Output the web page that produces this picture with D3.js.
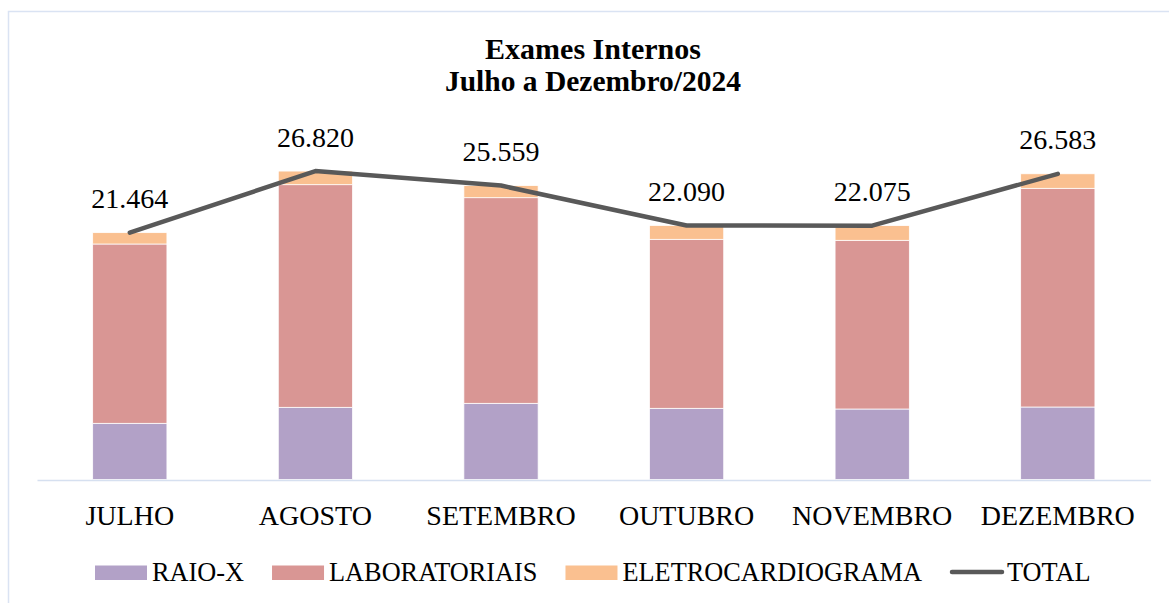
<!DOCTYPE html>
<html>
<head>
<meta charset="utf-8">
<script src="https://cdn.jsdelivr.net/npm/d3@7"></script>
<style>
  body { margin: 0; background: #ffffff; }
</style>
</head>
<body>
<div id="chart-area"></div>
<script>
// Months on the x axis
let months = ["JULHO", "AGOSTO", "SETEMBRO", "OUTUBRO", "NOVEMBRO", "DEZEMBRO"];

// Series values
let raioX = [4887, 6278, 6626, 6191, 6130, 6304];
let laboratoriais = [15591, 19357, 17878, 14696, 14670, 19018];
let eletrocardiograma = [986, 1185, 1055, 1203, 1275, 1261];
let total = [21464, 26820, 25559, 22090, 22075, 26583];

// Series names and colours
let seriesNames = ["RAIO-X", "LABORATORIAIS", "ELETROCARDIOGRAMA"];
let seriesColors = ["#b2a1c7", "#d99694", "#fac090"];
let lineColor = "#595959";

let serif = "Liberation Serif, Times New Roman, serif";

let width = 1169,
	height = 603;

let svg = d3.select("#chart-area")
	.append("svg")
	.attr("width", width)
	.attr("height", height)
	.attr("font-family", serif);

// Chart frame
svg.append("rect")
	.attr("x", 8.5)
	.attr("y", 11.5)
	.attr("width", 1170)
	.attr("height", 600)
	.attr("fill", "none")
	.attr("stroke", "#dae3f3")
	.attr("stroke-width", 1.5);

// Title
svg.append("text")
	.attr("x", 593)
	.attr("y", 59)
	.attr("text-anchor", "middle")
	.attr("font-weight", "bold")
	.attr("font-size", "30px")
	.text("Exames Internos");

svg.append("text")
	.attr("x", 593)
	.attr("y", 91)
	.attr("text-anchor", "middle")
	.attr("font-weight", "bold")
	.attr("font-size", "29.5px")
	.text("Julho a Dezembro/2024");

// Scales
let xScale = d3.scaleBand()
	.domain(months)
	.range([37, 1150.6])
	.paddingInner(0.6)
	.paddingOuter(0.3);

let yScale = d3.scaleLinear()
	.domain([0, 30000])
	.range([479.5, 134.5]);

// Stack the bar data
let rows = months.map((m, i) => ({
	month: m,
	"RAIO-X": raioX[i],
	"LABORATORIAIS": laboratoriais[i],
	"ELETROCARDIOGRAMA": eletrocardiograma[i]
}));

let stacked = d3.stack().keys(seriesNames)(rows);

// Draw bars
svg.append("g")
	.selectAll("g")
	.data(stacked)
	.enter()
	.append("g")
	.attr("fill", (d, i) => seriesColors[i])
	.selectAll("rect")
	.data(d => d)
	.enter()
	.append("rect")
	.attr("x", d => xScale(d.data.month))
	.attr("y", d => yScale(d[1]))
	.attr("width", xScale.bandwidth())
	.attr("height", d => yScale(d[0]) - yScale(d[1]))
	.attr("stroke", "#ffffff")
	.attr("stroke-width", 0.75);

// X axis line and labels
let xAxis = d3.axisBottom(xScale).tickSize(0).tickPadding(0);

let xAxisGroup = svg.append("g")
	.attr("class", "axis x-axis")
	.attr("transform", "translate(0," + 480 + ")")
	.call(xAxis)
	.attr("font-family", serif);

xAxisGroup.select(".domain")
	.attr("stroke", "#d6e0f0")
	.attr("stroke-width", 1.5);

xAxisGroup.selectAll("text")
	.attr("y", 45)
	.attr("dy", null)
	.attr("fill", "#000000")
	.attr("font-size", "28px");

// Total line
let lineGen = d3.line()
	.x((d, i) => xScale(months[i]) + xScale.bandwidth() / 2)
	.y(d => yScale(d));

svg.append("path")
	.datum(total)
	.attr("d", lineGen)
	.attr("fill", "none")
	.attr("stroke", lineColor)
	.attr("stroke-width", 4.5)
	.attr("stroke-linecap", "round")
	.attr("stroke-linejoin", "round");

// Total labels
let numFormat = d3.formatLocale({decimal: ",", thousands: ".", grouping: [3], currency: ["", ""]}).format(",");

svg.selectAll("text.total-label")
	.data(total)
	.enter()
	.append("text")
	.attr("class", "total-label")
	.attr("x", (d, i) => xScale(months[i]) + xScale.bandwidth() / 2)
	.attr("y", d => yScale(d) - 24.5)
	.attr("text-anchor", "middle")
	.attr("font-size", "28px")
	.text(d => numFormat(d));

// Legend
let legend = svg.append("g").attr("class", "legend");
let legendX = 95;
let legendItems = seriesNames.concat(["TOTAL"]);

legendItems.forEach(function(name, i) {
	if (i < seriesNames.length) {
		legend.append("rect")
			.attr("x", legendX)
			.attr("y", 565.5)
			.attr("width", 52)
			.attr("height", 14.5)
			.attr("fill", seriesColors[i]);
	} else {
		legend.append("line")
			.attr("x1", legendX + 2)
			.attr("x2", legendX + 52)
			.attr("y1", 572)
			.attr("y2", 572)
			.attr("stroke", lineColor)
			.attr("stroke-width", 4.5)
			.attr("stroke-linecap", "round");
	}
	let label = legend.append("text")
		.attr("x", legendX + 57)
		.attr("y", 580.5)
		.attr("font-size", "26.3px")
		.text(name);
	legendX += 57 + label.node().getComputedTextLength() + 28;
});
</script>
</body>
</html>
